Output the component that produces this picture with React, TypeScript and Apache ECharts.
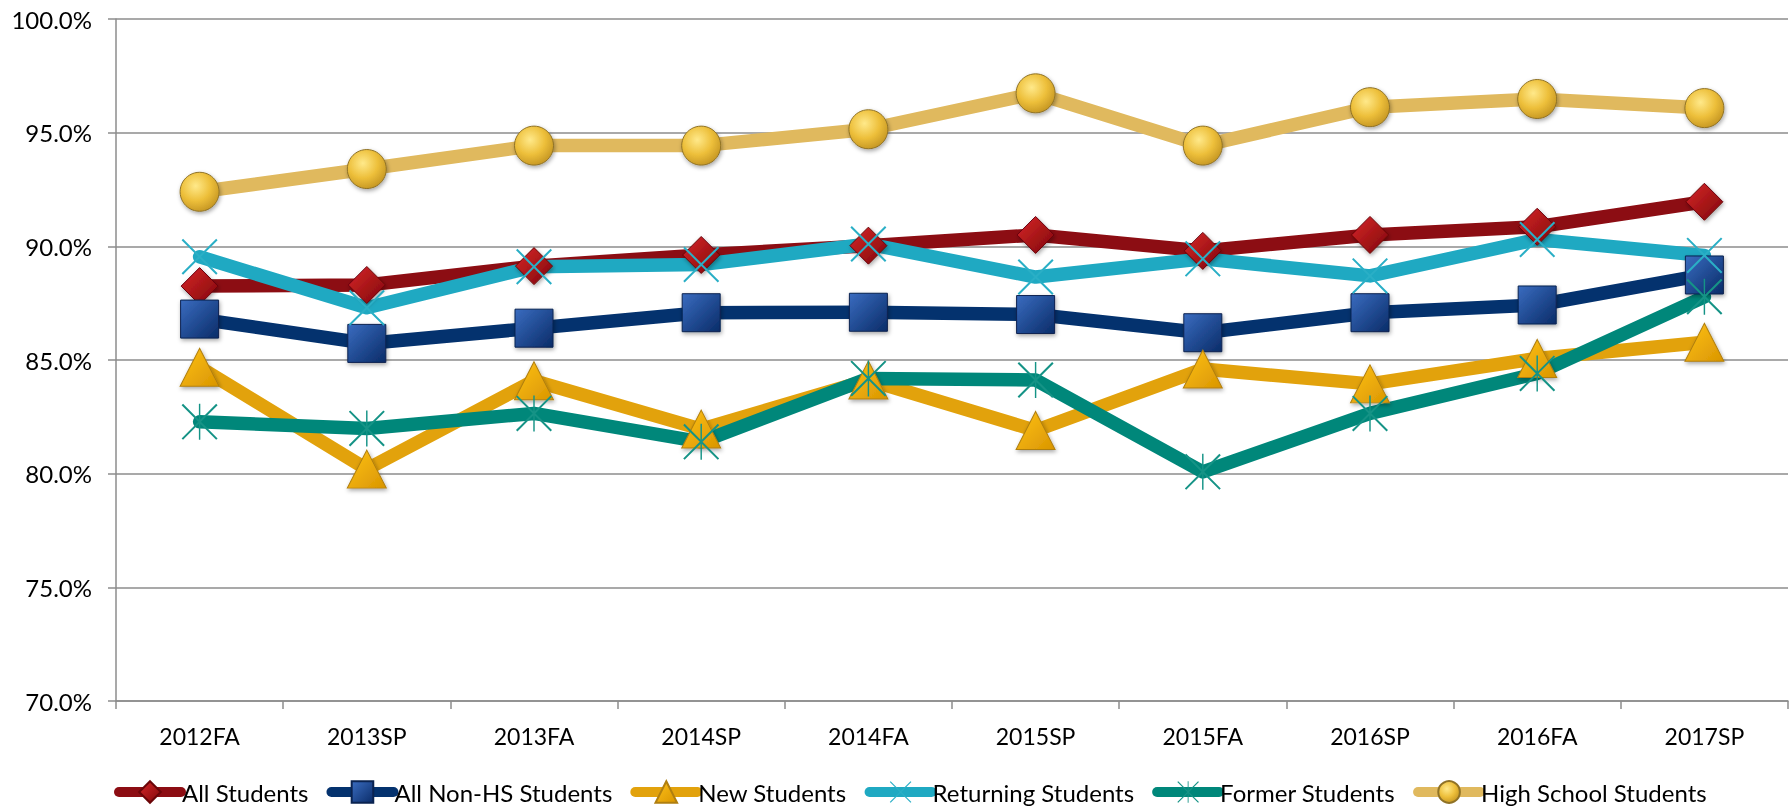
import React, { useEffect, useRef } from "react";
import * as echarts from "echarts";

const categories = ["2012FA", "2013SP", "2013FA", "2014SP", "2014FA", "2015SP", "2015FA", "2016SP", "2016FA", "2017SP"];
const allStudents = [88.25, 88.3, 89.13, 89.62, 90.03, 90.5, 89.8, 90.5, 90.86, 91.96];
const allNonHS = [86.8, 85.73, 86.4, 87.08, 87.1, 87.0, 86.2, 87.08, 87.42, 88.74];
const newStudents = [84.68, 80.2, 84.09, 81.96, 84.12, 81.9, 84.6, 83.95, 85.07, 85.78];
const returningStudents = [89.54, 87.3, 89.1, 89.2, 90.1, 88.65, 89.45, 88.7, 90.3, 89.6];
const formerStudents = [82.28, 81.99, 82.65, 81.4, 84.19, 84.12, 80.08, 82.65, 84.41, 87.78];
const hsStudents = [92.4, 93.4, 94.43, 94.43, 95.15, 96.73, 94.43, 96.12, 96.48, 96.08];

const X_PATH = "path://M0,4 L4,0 L100,96 L96,100 Z M96,0 L100,4 L4,100 L0,96 Z";
const STAR_PATH = "path://M0,4 L4,0 L100,96 L96,100 Z M96,0 L100,4 L4,100 L0,96 Z M48,0 L52,0 L52,100 L48,100 Z";

const lin = (c1: string, c2: string) =>
  new echarts.graphic.LinearGradient(0, 0, 1, 1, [
    { offset: 0, color: c1 },
    { offset: 1, color: c2 },
  ]);

export default function App() {
  const ref = useRef<HTMLDivElement>(null);
  useEffect(() => {
    if (!ref.current) return;
    const chart = echarts.init(ref.current, null, { renderer: "svg" });
    const font = "Lato";
    const shadow = { shadowBlur: 4, shadowColor: "rgba(0,0,0,0.35)", shadowOffsetX: 1, shadowOffsetY: 2 };
    const mk = (name: string, data: number[], lineColor: string, symbol: string, size: any, itemStyle: any) => ({
      name,
      type: "line",
      data,
      symbol,
      symbolSize: size,
      showSymbol: true,
      lineStyle: { color: lineColor, width: 13.5, cap: "round", join: "round" },
      itemStyle,
      emphasis: { disabled: true },
    });
    chart.setOption({
      animation: false,
      grid: { left: 116, right: 4, top: 19, bottom: 106, containLabel: false },
      legend: {
        left: 109,
        top: 775,
        itemWidth: 62,
        itemHeight: 27,
        itemGap: 18,
        lineStyle: { width: 10, cap: "round" },
        textStyle: { fontFamily: font, fontSize: 24, color: "#000", padding: [0, 0, 0, -4] },
        data: ["All Students", "All Non-HS Students", "New Students", "Returning Students", "Former Students", "High School Students"],
      },
      xAxis: {
        type: "category",
        data: categories,
        boundaryGap: true,
        axisLine: { lineStyle: { color: "#8c8c8c", width: 1.5 } },
        axisTick: { show: true, length: 8, lineStyle: { color: "#8c8c8c", width: 1.5 } },
        axisLabel: { fontFamily: font, fontSize: 23, color: "#000", margin: 23 },
      },
      yAxis: {
        type: "value",
        min: 70,
        max: 100,
        interval: 5,
        axisLine: { show: true, lineStyle: { color: "#8c8c8c", width: 1.5 } },
        axisTick: { show: true, length: 8, lineStyle: { color: "#8c8c8c", width: 1.5 } },
        splitLine: { lineStyle: { color: "#8c8c8c", width: 1.5 } },
        axisLabel: {
          fontFamily: font,
          fontSize: 24,
          color: "#000",
          margin: 24,
          formatter: (v: number) => v.toFixed(1) + "%",
        },
      },
      series: [
        mk("All Students", allStudents, "#8C0D13", "diamond", [37, 37], {
          color: lin("#D8282A", "#7E0608"),
          borderColor: "#6A0508",
          borderWidth: 1,
          ...shadow,
        }),
        mk("All Non-HS Students", allNonHS, "#04326E", "rect", [38, 38], {
          color: lin("#3A6CC0", "#0A2C68"),
          borderColor: "#0A2350",
          borderWidth: 1,
          ...shadow,
        }),
        mk("New Students", newStudents, "#E2A20C", "triangle", [39, 38], {
          color: lin("#FFC21A", "#D99500"),
          borderColor: "#B07F10",
          borderWidth: 1,
          ...shadow,
        }),
        mk("Returning Students", returningStudents, "#1FA9C2", X_PATH, [36, 36], {
          color: "#2AAFC6",
        }),
        mk("Former Students", formerStudents, "#00877A", STAR_PATH, [36, 36], {
          color: "#159386",
        }),
        mk("High School Students", hsStudents, "#E0B95E", "circle", [39, 39], {
          color: new echarts.graphic.RadialGradient(0.4, 0.35, 0.7, [
            { offset: 0, color: "#FFE98A" },
            { offset: 0.55, color: "#EDBF3A" },
            { offset: 1, color: "#C39422" },
          ]),
          borderColor: "#8F7226",
          borderWidth: 1,
          ...shadow,
        }),
      ],
    });
    return () => chart.dispose();
  }, []);
  return <div ref={ref} style={{ position: "fixed", left: 0, top: 0, width: 1792, height: 807 }} />;
}
